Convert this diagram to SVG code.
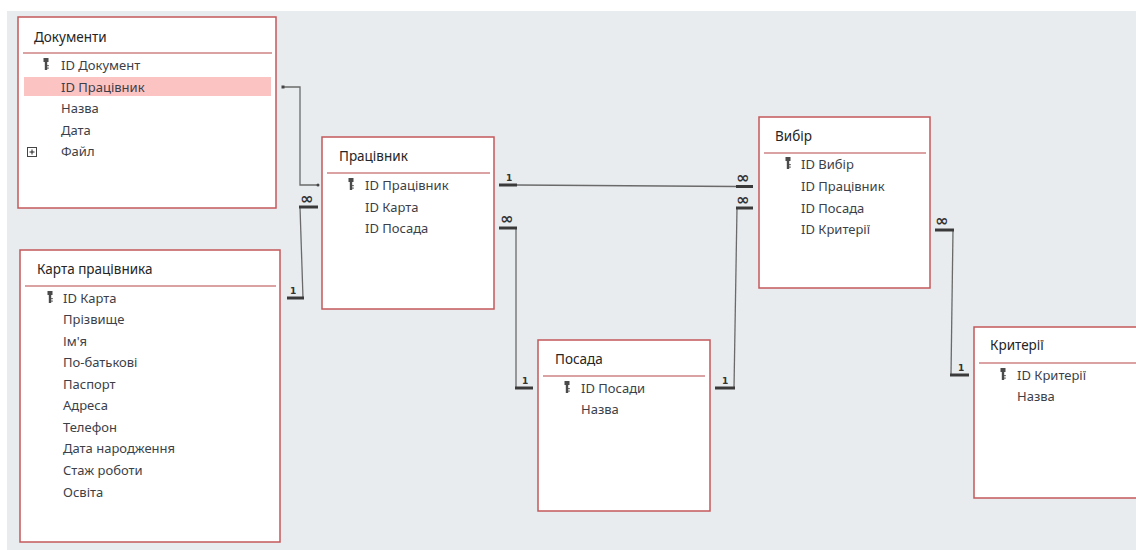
<svg xmlns="http://www.w3.org/2000/svg" width="1136" height="550" viewBox="0 0 1136 550">
<style>
.box{fill:#ffffff;stroke:#c4585b;stroke-width:1.5}
.sep{stroke:#b8474b;stroke-width:1.2}
.title{font-family:"Noto Sans",sans-serif;font-size:13.5px;fill:#252525}
.fld{font-family:"Noto Sans",sans-serif;font-size:13px;fill:#3c3f48}
.ln{fill:none;stroke:#6a6a6a;stroke-width:1.3}
.bar{stroke:#3a3a3a;stroke-width:3}
.card{font-family:"DejaVu Sans",sans-serif;font-size:9px;font-weight:bold;fill:#333}
.inf{font-family:"DejaVu Sans",sans-serif;font-size:16px;font-weight:bold;fill:#333}
</style>
<defs>
<g id="key">
<rect x="-2.5" y="-6" width="5" height="4" fill="#4a4a4a"/>
<rect x="-1.2" y="-2" width="2.4" height="8" fill="#4a4a4a"/>
<rect x="1.2" y="1" width="1.5" height="1.2" fill="#4a4a4a"/>
<rect x="1.2" y="3.5" width="1.5" height="1.2" fill="#4a4a4a"/>
</g>
</defs>
<rect x="0" y="0" width="1136" height="550" fill="#ffffff"/>
<rect x="7" y="11" width="1129" height="539" fill="#e9ecef"/>

<g id="connectors">
<path class="ln" d="M283 87 H300 V185 H318"/>
<rect x="281.5" y="85.5" width="3" height="3" fill="#444"/>
<circle cx="318" cy="185" r="1.5" fill="#444"/>
<path class="ln" d="M303 298 L300 207"/>
<line class="bar" x1="287" y1="298" x2="304" y2="298"/>
<line class="bar" x1="299" y1="207" x2="318" y2="207"/>
<text class="card" x="290" y="294">1</text>
<text class="inf" x="300" y="204">∞</text>
<path class="ln" d="M517 185 L737 186.5"/>
<line class="bar" x1="499" y1="185" x2="517" y2="185"/>
<line class="bar" x1="736" y1="186.5" x2="753" y2="186.5"/>
<text class="card" x="506" y="181">1</text>
<text class="inf" x="736" y="183">∞</text>
<path class="ln" d="M516 228 V388"/>
<line class="bar" x1="499" y1="228" x2="517" y2="228"/>
<line class="bar" x1="515" y1="388" x2="533" y2="388"/>
<text class="card" x="522" y="384">1</text>
<text class="inf" x="500" y="224">∞</text>
<path class="ln" d="M737 208 L734 388"/>
<line class="bar" x1="736" y1="208" x2="753" y2="208"/>
<line class="bar" x1="715" y1="388" x2="735" y2="388"/>
<text class="card" x="722" y="384">1</text>
<text class="inf" x="736" y="205">∞</text>
<path class="ln" d="M953 230 L951 375"/>
<line class="bar" x1="935" y1="230" x2="954" y2="230"/>
<line class="bar" x1="950" y1="375" x2="969" y2="375"/>
<text class="card" x="958" y="371">1</text>
<text class="inf" x="935" y="226">∞</text>
</g>

<g id="node-dokumenty">
<rect class="box" x="18" y="17" width="258" height="191"/>
<text class="title" x="34" y="42">Документи</text>
<line class="sep" x1="23" y1="53" x2="272" y2="53"/>
<rect x="24" y="77" width="247" height="19" fill="#fcc3c3"/>
<use href="#key" x="46" y="64"/>
<text class="fld" x="61" y="69.5">ID Документ</text>
<text class="fld" x="61" y="91.5">ID Працівник</text>
<text class="fld" x="61" y="112.5">Назва</text>
<text class="fld" x="61" y="134.5">Дата</text>
<rect x="27.5" y="147.5" width="9" height="9" fill="#fff" stroke="#444" stroke-width="1"/>
<path d="M29.5 152 H34.5 M32 149.5 V154.5" stroke="#222" stroke-width="1"/>
<text class="fld" x="61" y="155.5">Файл</text>
</g>

<g id="node-karta">
<rect class="box" x="20" y="250" width="260" height="292"/>
<text class="title" x="37" y="274">Карта працівника</text>
<line class="sep" x1="25" y1="286" x2="276" y2="286"/>
<use href="#key" x="50" y="297"/>
<text class="fld" x="63" y="302.5">ID Карта</text>
<text class="fld" x="63" y="323.5">Прізвище</text>
<text class="fld" x="63" y="345.5">Ім'я</text>
<text class="fld" x="63" y="366.5">По-батькові</text>
<text class="fld" x="63" y="388.5">Паспорт</text>
<text class="fld" x="63" y="409.5">Адреса</text>
<text class="fld" x="63" y="431.5">Телефон</text>
<text class="fld" x="63" y="452.5">Дата народження</text>
<text class="fld" x="63" y="474.5">Стаж роботи</text>
<text class="fld" x="63" y="496.5">Освіта</text>
</g>

<g id="node-pratsivnyk">
<rect class="box" x="322" y="137" width="172" height="172"/>
<text class="title" x="339" y="161">Працівник</text>
<line class="sep" x1="327" y1="173" x2="490" y2="173"/>
<use href="#key" x="351" y="184"/>
<text class="fld" x="365" y="189.5">ID Працівник</text>
<text class="fld" x="365" y="211.5">ID Карта</text>
<text class="fld" x="365" y="232.5">ID Посада</text>
</g>

<g id="node-vybir">
<rect class="box" x="759" y="117" width="171" height="171"/>
<text class="title" x="775" y="141">Вибір</text>
<line class="sep" x1="764" y1="153" x2="926" y2="153"/>
<use href="#key" x="788" y="163"/>
<text class="fld" x="801" y="168.5">ID Вибір</text>
<text class="fld" x="801" y="190.5">ID Працівник</text>
<text class="fld" x="801" y="212.5">ID Посада</text>
<text class="fld" x="801" y="233.5">ID Критерії</text>
</g>

<g id="node-posada">
<rect class="box" x="538" y="340" width="172" height="171"/>
<text class="title" x="555" y="364">Посада</text>
<line class="sep" x1="543" y1="376" x2="705" y2="376"/>
<use href="#key" x="567" y="387"/>
<text class="fld" x="581" y="392.5">ID Посади</text>
<text class="fld" x="581" y="413.5">Назва</text>
</g>

<g id="node-kryterii">
<rect class="box" x="974" y="327" width="180" height="171"/>
<text class="title" x="990" y="350">Критерії</text>
<line class="sep" x1="979" y1="363" x2="1136" y2="363"/>
<use href="#key" x="1003" y="374"/>
<text class="fld" x="1017" y="379.5">ID Критерії</text>
<text class="fld" x="1017" y="400.5">Назва</text>
</g>
</svg>
